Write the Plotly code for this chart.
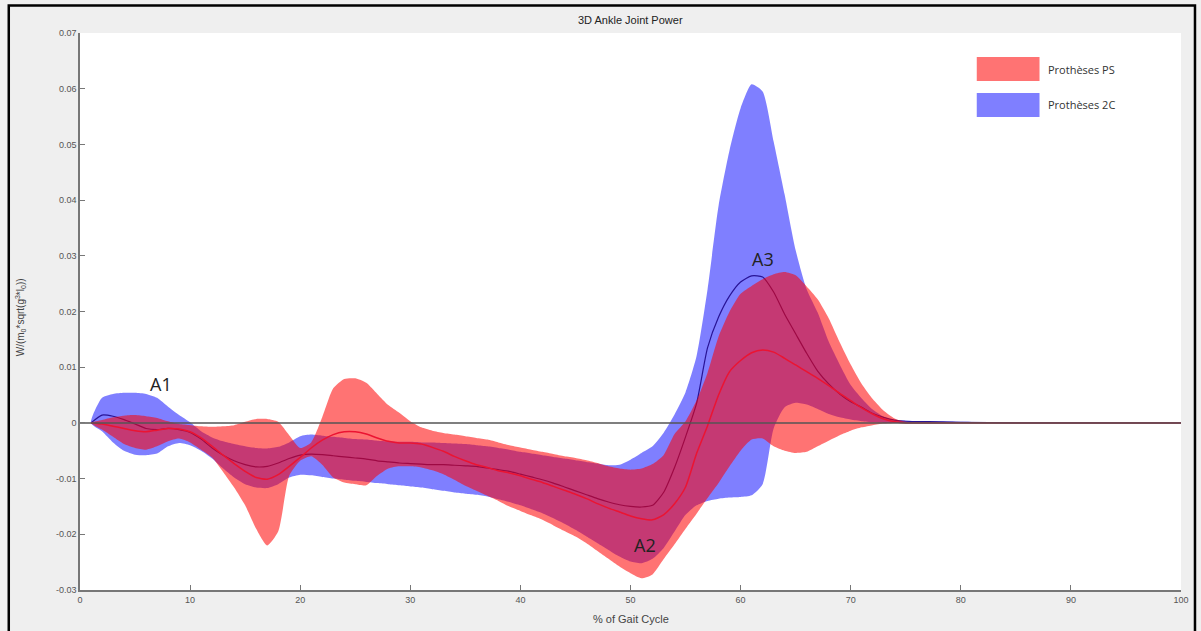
import plotly.graph_objects as go

# ---------------- data ----------------
gait = list(range(1, 76)) + [78, 80, 85, 90, 95, 100]

ps_upper = [0, 0.0005, 0.001, 0.0013, 0.0014, 0.0012, 0.0009, 0.0003, -0.0002, -0.0004,
            -0.0006, -0.0007, -0.0006, -0.0004, 0.0002, 0.0007, 0.0007, 0.0002, -0.0022, -0.0045,
            -0.0035, 0.001, 0.0062, 0.0079, 0.008, 0.0072, 0.0052, 0.0032, 0.0018, 0.0003,
            -0.0008, -0.0014, -0.0018, -0.0021, -0.0024, -0.0027, -0.003, -0.0035, -0.004, -0.0044,
            -0.0048, -0.0052, -0.0056, -0.006, -0.0063, -0.0067, -0.0072, -0.0078, -0.0082, -0.0084,
            -0.0082, -0.0074, -0.0058, -0.002, 0.0003, 0.004, 0.009, 0.0155, 0.02, 0.0232,
            0.0246, 0.0258, 0.0267, 0.0271, 0.0265, 0.0245, 0.0222, 0.0188, 0.0145, 0.0105,
            0.007, 0.0043, 0.0022, 0.0008, 0.0002, 0.0001, 0, 0, 0, 0, 0]

ps_mean = [0, -0.0002, -0.0006, -0.001, -0.0014, -0.0016, -0.0013, -0.001, -0.0011, -0.0016,
           -0.0027, -0.0042, -0.0058, -0.0073, -0.0087, -0.0098, -0.0101, -0.0093, -0.0078, -0.0062,
           -0.0045, -0.0031, -0.0021, -0.0016, -0.0016, -0.002, -0.0027, -0.0033, -0.0036, -0.0036,
           -0.0038, -0.0044, -0.0051, -0.006, -0.0068, -0.0075, -0.008, -0.0086, -0.009, -0.0095,
           -0.0101, -0.0107, -0.0114, -0.0121, -0.0128, -0.0136, -0.0145, -0.0153, -0.016, -0.0167,
           -0.0172, -0.0174, -0.0165, -0.0145, -0.0115, -0.0055, -0.0005, 0.005, 0.0092, 0.0112,
           0.0126, 0.0131, 0.0127, 0.0116, 0.0104, 0.0092, 0.008, 0.0067, 0.0053, 0.004,
           0.0027, 0.0016, 0.0007, 0.0002, 0, 0, 0, 0, 0, 0, 0]

ps_lower = [0, -0.0012, -0.0025, -0.0038, -0.0045, -0.0048, -0.0042, -0.0033, -0.0028, -0.0035,
            -0.0048, -0.0062, -0.0088, -0.0116, -0.0148, -0.019, -0.022, -0.0195, -0.0095, -0.0068,
            -0.006, -0.0075, -0.0098, -0.0107, -0.011, -0.0112, -0.0095, -0.0082, -0.0078, -0.0078,
            -0.008, -0.0085, -0.0092, -0.0102, -0.0113, -0.0122, -0.0131, -0.014, -0.015, -0.0158,
            -0.0166, -0.0174, -0.0184, -0.0194, -0.0204, -0.0216, -0.023, -0.0244, -0.0258, -0.027,
            -0.0279, -0.0272, -0.0245, -0.0218, -0.019, -0.0163, -0.0135, -0.0108, -0.0078, -0.005,
            -0.003, -0.0028, -0.0042, -0.005, -0.0054, -0.0052, -0.0042, -0.0032, -0.0022, -0.0014,
            -0.0008, -0.0004, -0.0001, 0, 0, 0, 0, 0, 0, 0, 0]

c2_upper = [0, 0.0045, 0.0052, 0.0054, 0.0054, 0.0052, 0.0045, 0.0029, 0.0014, 0.0001,
            -0.0015, -0.0026, -0.0033, -0.0038, -0.0042, -0.0045, -0.0046, -0.0043, -0.0035, -0.0024,
            -0.0021, -0.0023, -0.0025, -0.0027, -0.0029, -0.003, -0.0032, -0.0033, -0.0034, -0.0034,
            -0.0035, -0.0035, -0.0036, -0.0037, -0.0038, -0.004, -0.0042, -0.0045, -0.0048, -0.0052,
            -0.0055, -0.0058, -0.0061, -0.0064, -0.0067, -0.007, -0.0073, -0.0076, -0.0075, -0.0066,
            -0.0054, -0.0042, -0.0018, 0.0015, 0.0055, 0.012, 0.024, 0.039, 0.049, 0.0565,
            0.0608, 0.0595, 0.0505, 0.041, 0.031, 0.024, 0.0198, 0.0146, 0.0105, 0.0068,
            0.0044, 0.0024, 0.0011, 0.0005, 0.0004, 0.0003, 0.0002, 0.0001, 0.0001, 0, 0]

c2_mean = [0, 0.0014, 0.0012, 0.0006, -0.0002, -0.001, -0.0012, -0.001, -0.0012, -0.0017,
           -0.0029, -0.0045, -0.0058, -0.0068, -0.0075, -0.0079, -0.0078, -0.0072, -0.0064, -0.0058,
           -0.0056, -0.0057, -0.0059, -0.0061, -0.0063, -0.0065, -0.0068, -0.007, -0.0072, -0.0073,
           -0.0074, -0.0075, -0.0075, -0.0076, -0.0077, -0.0078, -0.0081, -0.0084, -0.0087, -0.0092,
           -0.0097, -0.0102, -0.0108, -0.0115, -0.0122, -0.0129, -0.0136, -0.0142, -0.0147, -0.015,
           -0.0151, -0.0148, -0.0125, -0.008, -0.0025, 0.0035, 0.0135, 0.019, 0.0228, 0.0253,
           0.0264, 0.0262, 0.0235, 0.0195, 0.016, 0.0125, 0.0093, 0.007, 0.0052, 0.0038,
           0.0028, 0.0017, 0.001, 0.0005, 0.0003, 0.0002, 0.0001, 0, 0, 0, 0]

c2_lower = [0, -0.0015, -0.0035, -0.005, -0.0057, -0.0058, -0.0055, -0.0042, -0.0036, -0.004,
            -0.005, -0.0064, -0.0082, -0.0098, -0.011, -0.0116, -0.0117, -0.011, -0.0098, -0.0093,
            -0.0094, -0.0097, -0.01, -0.0102, -0.0104, -0.0106, -0.0108, -0.011, -0.0112, -0.0114,
            -0.0116, -0.0119, -0.0122, -0.0125, -0.0127, -0.0129, -0.0132, -0.0137, -0.0142, -0.0148,
            -0.0155, -0.0162, -0.0171, -0.0181, -0.0192, -0.0204, -0.0216, -0.0228, -0.024, -0.0249,
            -0.0252, -0.0244, -0.0225, -0.0195, -0.0165, -0.0148, -0.014, -0.0136, -0.0134, -0.0133,
            -0.013, -0.011, -0.001, 0.0028, 0.0036, 0.0033, 0.0025, 0.0016, 0.001, 0.0006,
            0.0003, 0.0001, 0, 0, 0, 0, 0, 0, 0, 0, 0]

x_ticks = [0, 10, 20, 30, 40, 50, 60, 70, 80, 90, 100]
y_ticks = [-0.03, -0.02, -0.01, 0, 0.01, 0.02, 0.03, 0.04, 0.05, 0.06, 0.07]
y_ticktext = ["-0.03", "-0.02", "-0.01", "0", "0.01", "0.02", "0.03", "0.04", "0.05", "0.06", "0.07"]

series_names = ["Prothèses PS", "Prothèses 2C"]
labels = ["A1", "A2", "A3"]
label_x = [7.4, 51.3, 62.0]
label_y = [0.0070, -0.0219, 0.0294]

# ---------------- styles ----------------
RED_FILL = "rgba(255,0,0,0.55)"
BLUE_FILL = "rgba(0,0,255,0.5)"
RED_LINE = "rgb(235,20,50)"
BLUE_LINE = "rgb(40,20,150)"

fig = go.Figure()

def band(x, lo, hi, color):
    return go.Scatter(x=list(x) + list(x)[::-1], y=list(hi) + list(lo)[::-1],
                      fill="toself", fillcolor=color, mode="lines",
                      line=dict(width=0, color=color, shape="spline", smoothing=0.6),
                      hoverinfo="skip", showlegend=False)

fig.add_trace(band(gait, c2_lower, c2_upper, BLUE_FILL))
fig.add_trace(go.Scatter(x=gait, y=c2_mean, mode="lines",
                         line=dict(color=BLUE_LINE, width=1.2, shape="spline", smoothing=0.6),
                         showlegend=False))
fig.add_trace(band(gait, ps_lower, ps_upper, RED_FILL))
fig.add_trace(go.Scatter(x=gait, y=ps_mean, mode="lines",
                         line=dict(color=RED_LINE, width=1.5, shape="spline", smoothing=0.6),
                         showlegend=False))
# zero reference line
fig.add_trace(go.Scatter(x=[x_ticks[0], x_ticks[-1]], y=[0, 0], mode="lines",
                         line=dict(color="#555555", width=1.5), showlegend=False,
                         hoverinfo="skip"))

axis_common = dict(showline=True, linecolor="#777777", linewidth=1.5, ticks="inside",
                   ticklen=5, tickwidth=1.2, tickcolor="#777777", showgrid=False,
                   zeroline=False, mirror=False,
                   tickfont=dict(family="Liberation Sans, Arial", size=9, color="#555555"))

fig.update_xaxes(range=[0, 100], tickvals=x_ticks, **axis_common)
fig.update_yaxes(range=[-0.03, 0.07], tickvals=y_ticks, ticktext=y_ticktext, **axis_common)

annotations = []
for t, xx, yy in zip(labels, label_x, label_y):
    annotations.append(dict(x=xx, y=yy, xref="x", yref="y", text=t, showarrow=False,
                            xanchor="center", yanchor="middle",
                            font=dict(family="Open Sans, Noto Sans", size=18, color="#222222")))

annotations += [
    dict(x=0.5, y=1.0233, xref="paper", yref="paper", text="3D Ankle Joint Power",
         xanchor="center", yanchor="middle",
         showarrow=False, font=dict(family="Liberation Sans, Arial", size=11, color="#222222")),
    dict(x=0.5, y=-0.052, xref="paper", yref="paper", text="% of Gait Cycle",
         xanchor="center", yanchor="middle",
         showarrow=False, font=dict(family="Liberation Sans, Arial", size=11, color="#444444")),
    dict(x=-0.0543, y=0.49, xref="paper", yref="paper", textangle=-90,
         xanchor="center", yanchor="middle",
         text="W/(m<sub>0</sub>*sqrt(g<sup>3</sup>*l<sub>0</sub>))",
         showarrow=False, font=dict(family="Liberation Sans, Arial", size=10, color="#444444")),
    dict(x=0.8778, y=0.935, xref="paper", yref="paper", text=series_names[0],
         xanchor="left", yanchor="middle",
         showarrow=False, font=dict(family="Open Sans, Noto Sans", size=11, color="#333333")),
    dict(x=0.8778, y=0.871, xref="paper", yref="paper", text=series_names[1],
         xanchor="left", yanchor="middle",
         showarrow=False, font=dict(family="Open Sans, Noto Sans", size=11, color="#333333")),
]

shapes = [
    # legend patches
    dict(type="rect", xref="paper", yref="paper", x0=0.8145, x1=0.8715, y0=0.9138, y1=0.9569,
         fillcolor=RED_FILL, line=dict(width=0)),
    dict(type="rect", xref="paper", yref="paper", x0=0.8145, x1=0.8715, y0=0.8492, y1=0.8923,
         fillcolor=BLUE_FILL, line=dict(width=0)),
    # outer frame of the screenshot
    dict(type="rect", xref="paper", yref="paper", x0=-0.0647, x1=1.0127, y0=-0.0898, y1=1.0494,
         line=dict(color="#000000", width=2.5), layer="above"),
]

fig.update_layout(
    width=1201, height=631,
    margin=dict(l=80, r=16, t=33, b=41),
    paper_bgcolor="#efefef", plot_bgcolor="#ffffff",
    annotations=annotations, shapes=shapes, showlegend=False,
)

fig.write_html("out.html")
